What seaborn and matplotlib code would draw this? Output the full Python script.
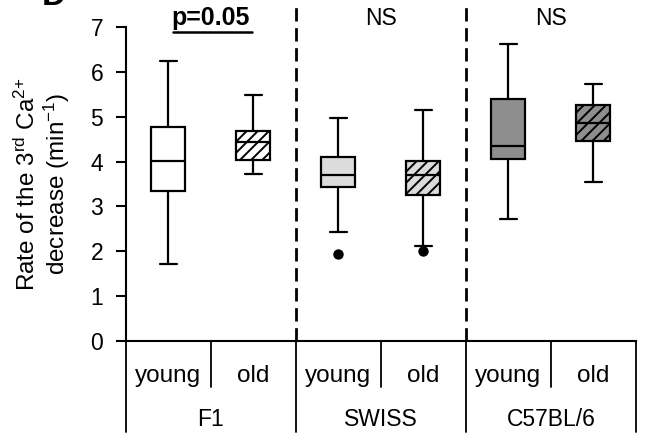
import numpy as np
import pandas as pd
import matplotlib
matplotlib.use("Agg")
import matplotlib.pyplot as plt
import seaborn as sns

# Groups on the category axis
strains = ["F1", "SWISS", "C57BL/6"]
ages = ["young", "old"]
groups = [f"{s} {a}" for s in strains for a in ages]

# Five-number summaries per group (min-1)
whisker_low = [1.71, 3.73, 2.42, 2.12, 2.72, 3.54]
q1 = [3.35, 4.04, 3.44, 3.26, 4.07, 4.46]
median = [4.02, 4.43, 3.70, 3.70, 4.34, 4.86]
q3 = [4.78, 4.69, 4.11, 4.01, 5.41, 5.27]
whisker_high = [6.26, 5.49, 4.97, 5.15, 6.64, 5.74]

# Outlying observations
outlier_group = ["SWISS young", "SWISS old"]
outlier_value = [1.94, 2.01]

box_colors = ["#ffffff", "#ffffff", "#dcdcdc", "#dcdcdc", "#8e8e8e", "#8e8e8e"]
strain_stats = ["p=0.05", "NS", "NS"]

sns.set_style("white")
plt.rcParams["font.family"] = ["Liberation Sans", "DejaVu Sans"]
plt.rcParams["mathtext.fontset"] = "custom"
plt.rcParams["mathtext.rm"] = "Liberation Sans"
plt.rcParams["mathtext.it"] = "Liberation Sans:italic"
plt.rcParams["hatch.linewidth"] = 1.4
for key in ("text.color", "axes.labelcolor", "xtick.color", "ytick.color",
            "axes.edgecolor"):
    plt.rcParams[key] = "black"

rows = []
for g, lo, a, m, b, hi in zip(groups, whisker_low, q1, median, q3, whisker_high):
    for v in (lo, a, m, b, hi):
        rows.append({"group": g, "value": v})
df = pd.DataFrame(rows)

fig = plt.figure(figsize=(6.48, 4.36), dpi=100)
ax = fig.add_axes([0.1937, 0.2186, 0.7878, 0.7184])

sns.boxplot(data=df, x="group", y="value", hue="group", order=groups,
            hue_order=groups, palette=dict(zip(groups, box_colors)),
            width=0.4, whis=(0, 100), linewidth=1.6, linecolor="black",
            showfliers=False, legend=False, saturation=1, ax=ax)

# hatch the "old" boxes
for p in ax.patches:
    verts = p.get_path().vertices
    xc = verts[:, 0].mean()
    idx = int(round(xc))
    if idx % 2 == 1:
        p.set_hatch("///")
        p.set_edgecolor("black")

sns.stripplot(x=outlier_group, y=outlier_value, order=groups, jitter=False,
              color="black", size=7.5, ax=ax)

ax.set_xlim(-0.5, 5.5)
ax.set_ylim(0, 7)
ax.set_yticks(range(8))
ax.set_xticks([])
ax.set_xlabel("")
ax.tick_params(axis="y", left=True, length=7, width=1.5, pad=9,
               labelsize=16.5, color="black", labelcolor="black")
for side in ("top", "right"):
    ax.spines[side].set_visible(False)
for side in ("left", "bottom"):
    ax.spines[side].set_linewidth(1.5)
    ax.spines[side].set_color("black")

ax.set_ylabel("Rate of the 3$^{\\mathrm{rd}}$ Ca$^{2\\!+}$\ndecrease (min$^{-1}$)",
              fontsize=17.5, linespacing=1.1, color="black")
ax.yaxis.set_label_coords(-0.105, 0.5)

# dashed separators between strains
for xs in (1.5, 3.5):
    ax.plot([xs, xs], [0, 7.45], color="black", lw=2,
            linestyle=(0, (4.8, 2.4)), clip_on=False)

# category table below the axis
for i, g in enumerate(groups):
    ax.text(i, -0.92, ages[i % 2], ha="center", va="baseline", fontsize=17.5,
            color="black",
            family=["Liberation Sans Narrow", "Liberation Sans"])
for k, s in enumerate(strains):
    ax.text(2 * k + 0.5, -1.906, s, ha="center", va="baseline",
            fontsize=16.5, color="black")
for xb in (-0.5, 1.5, 3.5, 5.5):
    ax.plot([xb, xb], [0, -2.04], color="black", lw=1.3, clip_on=False)
for xb in (0.5, 2.5, 4.5):
    ax.plot([xb, xb], [0, -1.03], color="black", lw=1.3, clip_on=False)

# per-strain comparison
for k, s in enumerate(strain_stats):
    bold = s.startswith("p")
    ax.text(2 * k + 0.5, 7.21, s, ha="center", va="center",
            fontsize=18 if bold else 16.5, color="black",
            fontweight="bold" if bold else "normal", clip_on=False)
ax.plot([0.06, 0.985], [6.90, 6.90], color="black", lw=1.8, clip_on=False)

fig.text(0.064, 1 - 5 / 436, "D", fontsize=24, fontweight="bold",
         va="baseline", ha="left", color="black")

fig.savefig("out.png", dpi=100)
